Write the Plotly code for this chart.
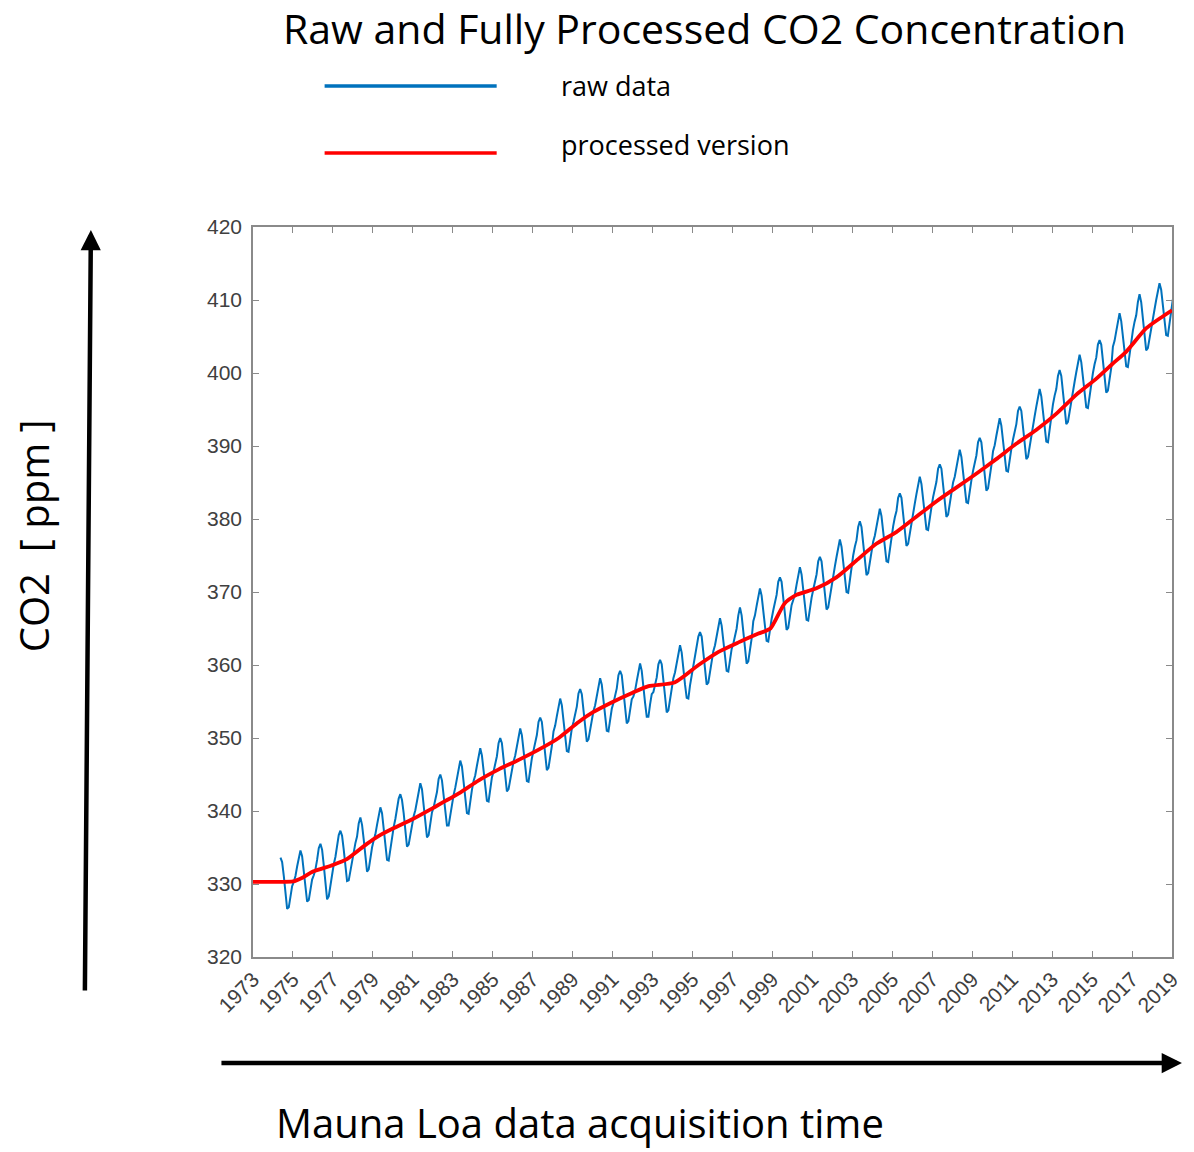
import plotly.graph_objects as go

# Mauna Loa monthly CO2 (ppm), one row per year, Jan..Dec
raw_years = list(range(1974, 2020))
raw_ppm = [
    [None, None, None, None, 333.6, 333.0, 331.1, 328.7, 326.6, 326.8, 328.3, 329.7],
    [330.3, 331.1, 332.4, 333.8, 334.6, 333.8, 331.9, 329.6, 327.6, 327.8, 329.2, 330.6],
    [331.2, 332.0, 333.3, 334.9, 335.5, 334.7, 332.6, 330.2, 327.9, 328.3, 330.0, 331.5],
    [332.7, 333.7, 335.0, 336.7, 337.3, 336.6, 334.7, 332.3, 330.4, 330.5, 331.9, 333.3],
    [334.4, 335.6, 336.5, 338.3, 339.1, 338.1, 336.1, 333.9, 331.7, 332.0, 333.6, 335.0],
    [336.0, 336.8, 338.1, 339.5, 340.5, 339.7, 337.5, 335.1, 333.3, 333.2, 334.9, 336.4],
    [337.8, 338.9, 340.1, 341.7, 342.3, 341.5, 339.7, 337.3, 335.1, 335.4, 336.8, 338.3],
    [339.3, 340.1, 341.4, 342.8, 343.8, 343.0, 340.8, 338.6, 336.4, 336.7, 338.2, 339.8],
    [340.5, 341.7, 342.6, 344.4, 345.0, 344.2, 342.4, 339.8, 338.0, 338.0, 339.5, 341.0],
    [342.2, 343.2, 344.5, 346.1, 346.9, 346.1, 343.9, 341.7, 339.7, 339.6, 341.4, 342.9],
    [344.1, 344.9, 346.2, 347.6, 348.6, 347.6, 345.8, 343.2, 341.4, 341.3, 343.0, 344.6],
    [345.4, 346.6, 347.5, 349.3, 350.0, 349.3, 347.1, 344.9, 342.7, 343.0, 344.4, 346.0],
    [346.8, 347.6, 348.9, 350.3, 351.3, 350.4, 348.5, 345.9, 344.1, 344.0, 345.8, 347.2],
    [348.3, 349.5, 350.4, 352.2, 352.8, 352.2, 350.0, 347.8, 345.6, 345.9, 347.3, 348.9],
    [350.9, 351.7, 353.0, 354.4, 355.4, 354.5, 352.6, 350.0, 348.2, 348.1, 349.9, 351.3],
    [352.2, 353.4, 354.3, 356.1, 356.7, 356.0, 353.9, 351.7, 349.5, 349.8, 351.2, 352.9],
    [353.7, 354.5, 355.8, 357.2, 358.2, 357.3, 355.4, 352.8, 351.0, 350.9, 352.7, 354.0],
    [354.8, 355.9, 356.8, 358.6, 359.2, 358.6, 356.4, 354.2, 352.0, 352.3, 353.7, 355.3],
    [355.7, 356.5, 357.8, 359.2, 360.2, 359.2, 357.4, 354.8, 352.9, 352.9, 354.6, 356.0],
    [356.3, 357.4, 358.3, 360.1, 360.7, 360.1, 357.9, 355.7, 353.5, 353.8, 355.2, 356.9],
    [358.2, 359.0, 360.3, 361.7, 362.7, 361.7, 359.9, 357.3, 355.5, 355.4, 357.2, 358.5],
    [360.0, 361.2, 362.1, 363.9, 364.5, 363.9, 361.7, 359.5, 357.3, 357.6, 359.0, 360.7],
    [361.9, 362.7, 364.0, 365.4, 366.4, 365.4, 363.6, 361.0, 359.2, 359.1, 360.9, 362.2],
    [362.9, 364.1, 365.0, 366.8, 367.9, 366.8, 364.6, 362.4, 360.2, 360.5, 361.9, 363.6],
    [366.0, 366.8, 368.1, 369.5, 370.5, 369.5, 367.7, 365.1, 363.3, 363.2, 365.0, 366.3],
    [367.5, 368.7, 369.6, 371.4, 372.0, 371.4, 369.2, 367.0, 364.8, 365.1, 366.5, 368.2],
    [368.9, 369.7, 371.0, 372.4, 373.4, 372.4, 370.6, 368.0, 366.2, 366.1, 367.9, 369.2],
    [370.3, 371.5, 372.4, 374.2, 374.8, 374.2, 372.0, 369.8, 367.6, 367.9, 369.3, 371.0],
    [372.7, 373.5, 374.8, 376.2, 377.2, 376.2, 374.4, 371.8, 370.0, 369.9, 371.7, 373.0],
    [375.0, 376.2, 377.1, 378.9, 379.7, 378.9, 376.7, 374.5, 372.3, 372.6, 374.0, 375.7],
    [376.9, 377.7, 379.0, 380.4, 381.4, 380.4, 378.6, 376.0, 374.2, 374.1, 375.9, 377.2],
    [379.0, 380.2, 381.1, 382.9, 383.5, 382.9, 380.7, 378.5, 376.3, 376.6, 378.0, 379.7],
    [381.3, 382.1, 383.4, 384.8, 385.8, 384.8, 383.0, 380.4, 378.6, 378.5, 380.3, 381.6],
    [383.0, 384.2, 385.1, 386.9, 387.5, 386.9, 384.7, 382.5, 380.3, 380.6, 382.0, 383.7],
    [385.0, 385.8, 387.1, 388.5, 389.5, 388.5, 386.7, 384.1, 382.3, 382.2, 384.0, 385.3],
    [386.6, 387.8, 388.7, 390.5, 391.1, 390.5, 388.3, 386.1, 383.9, 384.2, 385.6, 387.3],
    [389.3, 390.1, 391.4, 392.8, 393.8, 392.8, 391.0, 388.4, 386.6, 386.5, 388.3, 389.6],
    [390.9, 392.1, 393.0, 394.8, 395.4, 394.8, 392.6, 390.4, 388.2, 388.5, 389.9, 391.6],
    [393.3, 394.1, 395.4, 396.8, 397.8, 396.8, 395.0, 392.4, 390.6, 390.5, 392.3, 393.6],
    [395.7, 396.9, 397.8, 399.6, 400.4, 399.6, 397.4, 395.2, 393.0, 393.3, 394.7, 396.4],
    [398.0, 398.8, 400.1, 401.5, 402.5, 401.5, 399.7, 397.1, 395.3, 395.2, 397.0, 398.3],
    [400.0, 401.2, 402.1, 403.9, 404.5, 403.9, 401.7, 399.5, 397.3, 397.6, 399.0, 400.7],
    [403.6, 404.4, 405.7, 407.1, 408.2, 407.1, 405.3, 402.7, 400.9, 400.8, 402.6, 403.9],
    [405.8, 407.0, 407.9, 409.7, 410.8, 409.7, 407.5, 405.3, 403.1, 403.4, 404.8, 406.5],
    [407.9, 408.7, 410.0, 411.4, 412.3, 411.4, 409.6, 407.0, 405.2, 405.1, 406.9, 408.2],
    [410.1],
]

# Smoothed (fully processed) series
proc_time = [1973.0, 1974.0, 1975.0, 1975.5, 1976.0, 1977.0, 1977.7, 1978.7, 1979.3,
             1980.0, 1981.0, 1982.0, 1983.3, 1984.3, 1985.3, 1986.3, 1987.3, 1988.3,
             1989.3, 1990.0, 1990.9, 1992.0, 1992.8, 1994.1, 1995.3, 1996.3, 1997.3,
             1998.3, 1998.9, 1999.6, 2000.2, 2001.2, 2002.2, 2003.2, 2004.2, 2005.2,
             2006.2, 2007.2, 2008.2, 2009.2, 2010.2, 2011.2, 2012.2, 2013.2, 2014.2,
             2015.2, 2016.0, 2016.7, 2017.7, 2018.4, 2019.0]
proc_ppm = [330.3, 330.3, 330.35, 330.9, 331.7, 332.6, 333.4, 335.5, 336.6,
            337.6, 338.9, 340.4, 342.4, 344.2, 345.7, 347.0, 348.4, 350.0,
            352.2, 353.5, 354.8, 356.2, 357.1, 357.6, 360.0, 361.8, 363.1,
            364.3, 365.0, 368.4, 369.6, 370.5, 372.0, 374.3, 376.6, 378.2,
            380.3, 382.4, 384.3, 386.2, 388.2, 390.3, 392.2, 394.4, 397.0,
            399.2, 401.2, 402.9, 406.1, 407.5, 408.6]

year_ticks = list(range(1973, 2020, 2))
ppm_ticks = list(range(320, 421, 10))

raw_t, raw_v = [], []
for yr, row in zip(raw_years, raw_ppm):
    for m, v in enumerate(row):
        if v is not None:
            raw_t.append(yr + (m + 0.5) / 12)
            raw_v.append(v)

W, H = 1194, 1152
PL, PR, PT, PB = 253, 1177, 227, 957


def px(x):
    return (x - PL) / (PR - PL)


def py(y):
    return (PB - y) / (PB - PT)


BLUE = "#0072BD"
RED = "#FF0000"
AX = "#8a8a8a"

fig = go.Figure()
fig.add_trace(go.Scatter(x=raw_t, y=raw_v, mode="lines",
                         line=dict(color=BLUE, width=2.0), name="raw data"))
fig.add_trace(go.Scatter(x=proc_time, y=proc_ppm, mode="lines",
                         line=dict(color=RED, width=3.8, shape="spline", smoothing=0.6),
                         name="processed version"))

axis_common = dict(showline=True, linecolor=AX, linewidth=1.5, mirror="ticks",
                   ticks="inside", ticklen=6, tickwidth=1.2, tickcolor=AX,
                   showgrid=False, zeroline=False,
                   tickfont=dict(family="Liberation Sans, Arial", size=21, color="#404040"))

fig.update_xaxes(range=[1973, 2019], tickvals=year_ticks, tickangle=-45, **axis_common)
fig.update_yaxes(range=[320, 420], tickvals=ppm_ticks, ticklabelstandoff=5, **axis_common)

TXT = "Open Sans"
annotations = [
    dict(text="Raw and Fully Processed CO2 Concentration", x=px(707), y=py(28),
         font=dict(family=TXT, size=41, color="black")),
    dict(text="raw data", x=px(562), y=py(85), xanchor="left",
         font=dict(family=TXT, size=27, color="black")),
    dict(text="processed version", x=px(562), y=py(145), xanchor="left",
         font=dict(family=TXT, size=27, color="black")),
    dict(text="CO2  [ ppm ]", x=px(32), y=py(536), textangle=-90,
         font=dict(family=TXT, size=40, color="black")),
    dict(text="Mauna Loa data acquisition time", x=px(582), y=py(1122),
         font=dict(family=TXT, size=40, color="black")),
]
for a in annotations:
    a.update(xref="paper", yref="paper", showarrow=False, borderpad=0)
    a.setdefault("xanchor", "center")
    a.setdefault("yanchor", "middle")

# axis arrows
annotations.append(dict(text="", x=px(90), y=py(230), xref="paper", yref="paper",
                        ax=-6, ay=762, axref="pixel", ayref="pixel",
                        showarrow=True, arrowhead=2, arrowsize=0.9, arrowwidth=4.5,
                        arrowcolor="black"))
annotations.append(dict(text="", x=px(1187), y=py(1063), xref="paper", yref="paper",
                        ax=-962, ay=0, axref="pixel", ayref="pixel",
                        showarrow=True, arrowhead=2, arrowsize=0.9, arrowwidth=4.5,
                        arrowcolor="black"))

shapes = [
    dict(type="line", xref="paper", yref="paper", x0=px(325), x1=px(498),
         y0=py(86), y1=py(86), line=dict(color=BLUE, width=3.5)),
    dict(type="line", xref="paper", yref="paper", x0=px(325), x1=px(498),
         y0=py(153), y1=py(153), line=dict(color=RED, width=3.5)),
]

fig.update_layout(width=W, height=H, margin=dict(l=PL, r=W - PR, t=PT, b=H - PB),
                  paper_bgcolor="white", plot_bgcolor="white", showlegend=False,
                  annotations=annotations, shapes=shapes)

fig.write_html("out.html")
